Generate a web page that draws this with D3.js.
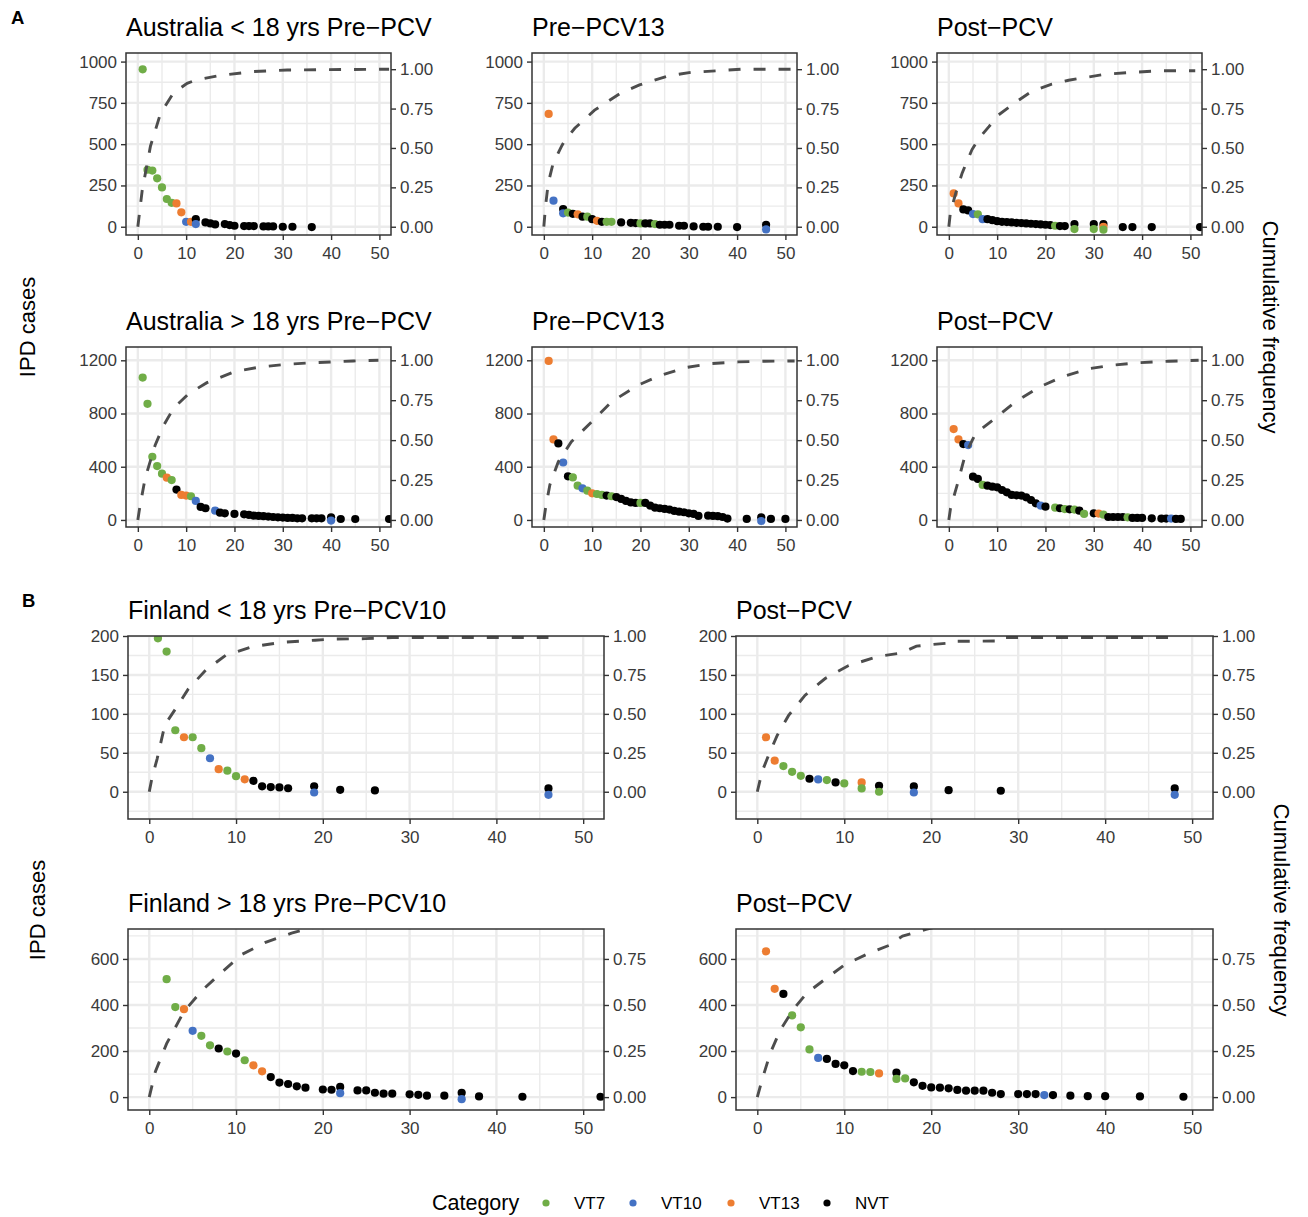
<!DOCTYPE html>
<html><head><meta charset="utf-8">
<script src="https://cdn.jsdelivr.net/npm/d3@7"></script>
<style>
body{margin:0;background:#fff}
text{font-family:"Liberation Sans",Arial,sans-serif}
</style>
</head><body>
<svg id="c" width="1308" height="1217"></svg>
<script>
// ---------------- DATA ----------------
const categories = ["VT7","VT10","VT13","NVT"];
const xTicks = [0,10,20,30,40,50];
const yTicksA1 = [0,250,500,750,1000];
const yTicksA2 = [0,400,800,1200];
const yTicksB1 = [0,50,100,150,200];
const yTicksB2 = [0,200,400,600];
const secTicks = [0,0.25,0.5,0.75,1];

// points: [rank, IPD cases, category]
const ausU18Pre = [[1,953,"VT7"],[2,345,"VT7"],[3,340,"VT7"],[4,293,"VT7"],[5,238,"VT7"],[6,168,"VT7"],[7,145,"VT7"],[8,141,"VT13"],[9,87,"VT13"],[10,30,"VT10"],[11,30,"VT13"],[12,46,"NVT"],[12,16,"VT10"],[14,26,"NVT"],[15,20,"NVT"],[16,14,"NVT"],[18,16,"NVT"],[19,10,"NVT"],[20,6,"NVT"],[22,4,"NVT"],[23,4,"NVT"],[24,4,"NVT"],[26,2,"NVT"],[27,2,"NVT"],[28,2,"NVT"],[30,0,"NVT"],[32,0,"NVT"],[36,-2,"NVT"]];
const ausU18Pcv13 = [[1,683,"VT13"],[2,158,"VT10"],[4,107,"NVT"],[4,81,"VT10"],[5,86,"VT7"],[6,78,"NVT"],[7,75,"VT13"],[8,61,"NVT"],[9,61,"VT7"],[10,46,"NVT"],[11,36,"VT13"],[12,30,"NVT"],[13,30,"VT7"],[14,30,"VT7"],[16,26,"NVT"],[18,24,"NVT"],[19,22,"NVT"],[20,20,"VT7"],[21,20,"NVT"],[22,20,"NVT"],[23,16,"VT7"],[24,12,"NVT"],[25,12,"NVT"],[26,12,"NVT"],[28,6,"NVT"],[29,6,"NVT"],[31,2,"NVT"],[33,0,"NVT"],[34,0,"NVT"],[36,0,"NVT"],[40,-2,"NVT"],[46,12,"NVT"],[46,-16,"VT10"]];
const ausU18Post = [[1,202,"VT13"],[2,141,"VT13"],[3,105,"NVT"],[4,99,"NVT"],[5,77,"VT10"],[6,75,"VT7"],[7,46,"VT10"],[8,46,"NVT"],[9,40,"NVT"],[10,34,"NVT"],[11,30,"NVT"],[12,28,"NVT"],[13,26,"NVT"],[14,24,"NVT"],[15,22,"NVT"],[16,20,"NVT"],[17,18,"NVT"],[18,16,"NVT"],[19,14,"NVT"],[20,12,"NVT"],[21,10,"NVT"],[22,6,"VT7"],[23,4,"NVT"],[24,4,"NVT"],[26,16,"NVT"],[26,-14,"VT7"],[30,16,"NVT"],[30,-14,"VT7"],[32,16,"NVT"],[32,0,"VT13"],[32,-18,"VT7"],[36,-2,"NVT"],[38,-2,"NVT"],[42,-2,"NVT"],[52,-2,"NVT"]];
const ausO18Pre = [[1,1070,"VT7"],[2,873,"VT7"],[3,475,"VT7"],[4,405,"VT7"],[5,348,"VT7"],[6,318,"VT13"],[7,300,"VT7"],[8,228,"NVT"],[9,188,"VT13"],[10,183,"VT13"],[11,178,"VT7"],[12,143,"VT10"],[13,98,"NVT"],[14,88,"NVT"],[16,70,"VT10"],[17,55,"NVT"],[18,50,"NVT"],[20,45,"NVT"],[22,42,"NVT"],[23,38,"NVT"],[24,32,"NVT"],[25,30,"NVT"],[26,28,"NVT"],[27,25,"NVT"],[28,22,"NVT"],[29,20,"NVT"],[30,18,"NVT"],[31,15,"NVT"],[32,15,"NVT"],[33,12,"NVT"],[34,12,"NVT"],[36,12,"NVT"],[37,12,"NVT"],[38,12,"NVT"],[40,20,"NVT"],[40,-5,"VT10"],[42,7,"NVT"],[45,7,"NVT"],[52,7,"NVT"]];
const ausO18Pcv13 = [[1,1195,"VT13"],[2,605,"VT13"],[3,575,"NVT"],[4,432,"VT10"],[5,328,"NVT"],[6,320,"VT7"],[7,258,"VT7"],[8,238,"VT10"],[9,220,"VT7"],[10,200,"VT13"],[11,195,"VT7"],[12,188,"VT7"],[13,183,"NVT"],[14,178,"VT7"],[15,172,"NVT"],[16,158,"NVT"],[17,143,"NVT"],[18,132,"NVT"],[19,128,"NVT"],[20,128,"VT7"],[21,128,"NVT"],[22,108,"NVT"],[23,93,"NVT"],[24,88,"NVT"],[25,83,"NVT"],[26,78,"NVT"],[27,68,"NVT"],[28,62,"NVT"],[29,58,"NVT"],[30,50,"NVT"],[31,45,"NVT"],[32,30,"NVT"],[34,32,"NVT"],[35,30,"NVT"],[36,28,"NVT"],[37,22,"NVT"],[38,10,"NVT"],[42,8,"NVT"],[45,20,"NVT"],[45,-8,"VT10"],[47,8,"NVT"],[50,8,"NVT"]];
const ausO18Post = [[1,683,"VT13"],[2,605,"VT13"],[3,570,"NVT"],[4,563,"VT10"],[5,325,"NVT"],[6,308,"NVT"],[7,263,"VT7"],[8,258,"NVT"],[9,250,"NVT"],[10,245,"NVT"],[11,225,"NVT"],[12,208,"NVT"],[13,188,"NVT"],[14,185,"NVT"],[15,183,"NVT"],[16,170,"NVT"],[17,150,"NVT"],[18,125,"NVT"],[19,108,"VT10"],[20,100,"NVT"],[22,93,"VT7"],[23,88,"NVT"],[24,82,"VT7"],[25,80,"NVT"],[26,78,"VT7"],[27,70,"NVT"],[28,45,"VT7"],[30,50,"NVT"],[31,48,"VT13"],[32,40,"VT7"],[33,22,"NVT"],[34,22,"NVT"],[35,22,"NVT"],[36,22,"NVT"],[37,20,"VT7"],[38,15,"NVT"],[39,15,"NVT"],[40,15,"NVT"],[42,12,"NVT"],[44,10,"NVT"],[45,10,"NVT"],[46,10,"VT10"],[47,8,"NVT"],[48,8,"NVT"]];
const finU18Pre = [[1,197,"VT7"],[2,180,"VT7"],[3,79,"VT7"],[4,70,"VT13"],[5,70,"VT7"],[6,56,"VT7"],[7,43,"VT10"],[8,29,"VT13"],[9,27,"VT7"],[10,20,"VT7"],[11,16,"VT13"],[12,14,"NVT"],[13,7,"NVT"],[14,6,"NVT"],[15,5.5,"NVT"],[16,4.5,"NVT"],[19,7,"NVT"],[19,-1,"VT10"],[22,2.5,"NVT"],[26,1.7,"NVT"],[46,4.3,"NVT"],[46,-4,"VT10"]];
const finU18Post = [[1,70,"VT13"],[2,40,"VT13"],[3,33,"VT7"],[4,25.6,"VT7"],[5,20.5,"VT7"],[6,16.7,"NVT"],[7,15.8,"VT10"],[8,15,"VT7"],[9,12,"NVT"],[10,10.7,"VT7"],[12,12,"VT13"],[12,4.3,"VT7"],[14,7.7,"NVT"],[14,0,"VT7"],[18,6.8,"NVT"],[18,-1,"VT10"],[22,2,"NVT"],[28,1.3,"NVT"],[48,4.3,"NVT"],[48,-4,"VT10"]];
const finO18Pre = [[2,512,"VT7"],[3,391,"VT7"],[4,382,"VT13"],[5,288,"VT10"],[6,266,"VT7"],[7,225,"VT7"],[8,211,"NVT"],[9,198,"VT7"],[10,189,"NVT"],[11,160,"VT7"],[12,138,"VT13"],[13,112,"VT13"],[14,87,"NVT"],[15,63,"NVT"],[16,57,"NVT"],[17,47,"NVT"],[18,41,"NVT"],[20,33,"NVT"],[21,32,"NVT"],[22,44,"NVT"],[22,17,"VT10"],[24,29,"NVT"],[25,29,"NVT"],[26,19,"NVT"],[27,15,"NVT"],[28,15,"NVT"],[30,12,"NVT"],[31,10,"NVT"],[32,6,"NVT"],[34,6,"NVT"],[36,19,"NVT"],[36,-9,"VT10"],[38,3,"NVT"],[43,1.5,"NVT"],[52,1.5,"NVT"]];
const finO18Post = [[1,633,"VT13"],[2,470,"VT13"],[3,448,"NVT"],[4,355,"VT7"],[5,303,"VT7"],[6,207,"VT7"],[7,170,"VT10"],[8,166,"NVT"],[9,144,"NVT"],[10,138,"NVT"],[11,113,"NVT"],[12,110,"VT7"],[13,109,"VT7"],[14,103,"VT13"],[16,106,"NVT"],[16,79,"VT7"],[17,81,"VT7"],[18,64,"NVT"],[19,49,"NVT"],[20,42,"NVT"],[21,41,"NVT"],[22,38,"NVT"],[23,31,"NVT"],[24,28,"NVT"],[25,28,"NVT"],[26,28,"NVT"],[27,19,"NVT"],[28,13,"NVT"],[30,13,"NVT"],[31,13,"NVT"],[32,13,"NVT"],[33,9,"VT10"],[34,9,"NVT"],[36,6,"NVT"],[38,4,"NVT"],[40,4,"NVT"],[44,3,"NVT"],[49,1.5,"NVT"]];

// cumulative frequency curves: [rank, cumulative fraction]
const ausU18PreCum = [[0,0],[0.9,0.23],[2.6,0.51],[4.7,0.72],[7.4,0.85],[10.2,0.91],[11.9,0.93],[17,0.96],[24,0.985],[30.9,0.995],[52,1.0]];
const ausU18Pcv13Cum = [[0,0],[0.34,0.127],[0.9,0.275],[1.9,0.40],[3.65,0.51],[4.2,0.54],[6.4,0.625],[10.5,0.74],[16,0.85],[19.8,0.90],[25.7,0.957],[30.5,0.98],[36,0.99],[40.8,1.0],[52,1.0]];
const ausU18PostCum = [[0,0],[0.3,0.085],[1.4,0.21],[2.75,0.34],[4.8,0.49],[6.2,0.56],[8.3,0.635],[10.3,0.71],[13.8,0.79],[17.2,0.86],[21.3,0.905],[24.8,0.93],[32.4,0.968],[37.9,0.98],[44,0.99],[51,0.99]];
const ausO18PreCum = [[0,0],[0.3,0.06],[1.5,0.26],[3.6,0.47],[5.3,0.59],[7.4,0.70],[10.5,0.79],[14.3,0.86],[20.1,0.93],[25.3,0.958],[30.8,0.975],[36.3,0.985],[44.6,0.996],[49.8,1.0]];
const ausO18Pcv13Cum = [[0,0],[0.35,0.073],[1.25,0.22],[3,0.365],[5.7,0.49],[9.9,0.615],[14,0.74],[19.5,0.844],[23.7,0.9],[29.2,0.954],[34.7,0.98],[40.2,0.99],[45.7,0.994],[51.9,0.996]];
const ausO18PostCum = [[0,0],[0.35,0.073],[2.1,0.26],[3.4,0.41],[5.5,0.54],[9.7,0.64],[13.8,0.74],[18.6,0.83],[23.4,0.896],[29,0.948],[33.8,0.969],[39.3,0.985],[45.5,0.994],[51.7,1.0]];
const finU18PreCum = [[0,0],[0.3,0.085],[0.9,0.21],[1.8,0.43],[3,0.53],[4.5,0.66],[6.5,0.78],[8.8,0.876],[11.8,0.93],[15.3,0.96],[19.1,0.973],[21,0.98],[24.9,0.983],[28,0.99],[46,0.99]];
const finU18PostCum = [[0,0],[0.54,0.128],[1.3,0.235],[2.3,0.363],[3.6,0.49],[5.5,0.62],[7.8,0.727],[10.5,0.81],[14,0.87],[16.5,0.89],[18.3,0.935],[20,0.945],[22.2,0.955],[22.4,0.966],[28,0.968],[28.3,0.99],[48,0.99]];
const finO18PreCum = [[0,0],[0.7,0.138],[2,0.29],[4,0.465],[6.1,0.58],[8.4,0.68],[10.7,0.775],[13.4,0.84],[16.4,0.89],[18,0.912],[20,0.93]];
const finO18PostCum = [[0,0],[0.54,0.093],[1.5,0.24],[2.65,0.365],[4.2,0.48],[5.7,0.565],[7.8,0.64],[10.1,0.72],[12.8,0.78],[15.5,0.83],[16.1,0.856],[16.7,0.874],[19.4,0.91],[21,0.93]];

// ---------------- STYLE / LAYOUT ----------------
const catColors = {VT7:"#70AD47", VT10:"#4472C4", VT13:"#ED7D31", NVT:"#000000"};
const XDOM = [-2.45, 52.4];
const panels = [
 {title:"Australia < 18 yrs Pre\u2212PCV", pts:ausU18Pre, cum:ausU18PreCum, box:[126,53,391,235], ydom:[-50,1052], yt:yTicksA1, f:954},
 {title:"Pre\u2212PCV13", pts:ausU18Pcv13, cum:ausU18Pcv13Cum, box:[532,53,797,235], ydom:[-50,1052], yt:yTicksA1, f:954},
 {title:"Post\u2212PCV", pts:ausU18Post, cum:ausU18PostCum, box:[937,53,1202,235], ydom:[-50,1052], yt:yTicksA1, f:954},
 {title:"Australia > 18 yrs Pre\u2212PCV", pts:ausO18Pre, cum:ausO18PreCum, box:[126,347,391,527], ydom:[-53,1300], yt:yTicksA2, f:1200},
 {title:"Pre\u2212PCV13", pts:ausO18Pcv13, cum:ausO18Pcv13Cum, box:[532,347,797,527], ydom:[-53,1300], yt:yTicksA2, f:1200},
 {title:"Post\u2212PCV", pts:ausO18Post, cum:ausO18PostCum, box:[937,347,1202,527], ydom:[-53,1300], yt:yTicksA2, f:1200},
 {title:"Finland < 18 yrs Pre\u2212PCV10", pts:finU18Pre, cum:finU18PreCum, box:[128,636,604,819], ydom:[-35,200], yt:yTicksB1, f:200},
 {title:"Post\u2212PCV", pts:finU18Post, cum:finU18PostCum, box:[736,636,1213,819], ydom:[-35,200], yt:yTicksB1, f:200},
 {title:"Finland > 18 yrs Pre\u2212PCV10", pts:finO18Pre, cum:finO18PreCum, box:[128,929,604,1110], ydom:[-56,730], yt:yTicksB2, f:800},
 {title:"Post\u2212PCV", pts:finO18Post, cum:finO18PostCum, box:[736,929,1213,1110], ydom:[-56,730], yt:yTicksB2, f:800}
];

const svg = d3.select("#c");
svg.append("rect").attr("width",1308).attr("height",1217).attr("fill","#fff");

function styleAxis(g){
  g.select(".domain").remove();
  g.selectAll(".tick line").attr("stroke","#333333").attr("stroke-width",1.4);
  g.selectAll(".tick text").attr("fill","#3a3a3a").attr("font-size",17)
   .attr("font-family",'"Liberation Sans",Arial,sans-serif');
}

panels.forEach((p,i)=>{
  const [x0,y0,x1,y1] = p.box;
  const x = d3.scaleLinear().domain(XDOM).range([x0,x1]);
  const y = d3.scaleLinear().domain(p.ydom).range([y1,y0]);
  const ySec = d3.scaleLinear().domain([p.ydom[0]/p.f, p.ydom[1]/p.f]).range([y1,y0]);
  const g = svg.append("g");
  const cid = "clip"+i;
  g.append("clipPath").attr("id",cid).append("rect").attr("x",x0).attr("y",y0).attr("width",x1-x0).attr("height",y1-y0);
  const inner = g.append("g").attr("clip-path",`url(#${cid})`);
  const xMinor = xTicks.map(t=>t+5).concat([-5]).filter(t=>t>XDOM[0]&&t<XDOM[1]);
  const step = p.yt[1]-p.yt[0];
  const yMinor = [p.yt[0]-step/2].concat(p.yt.map(t=>t+step/2)).filter(t=>t>p.ydom[0]&&t<p.ydom[1]);
  const gc = "#EBEBEB";
  inner.selectAll(".xm").data(xMinor).enter().append("line")
    .attr("x1",d=>x(d)).attr("x2",d=>x(d)).attr("y1",y0).attr("y2",y1).attr("stroke",gc).attr("stroke-width",1.4);
  inner.selectAll(".ym").data(yMinor).enter().append("line")
    .attr("y1",d=>y(d)).attr("y2",d=>y(d)).attr("x1",x0).attr("x2",x1).attr("stroke",gc).attr("stroke-width",1.4);
  inner.selectAll(".xM").data(xTicks).enter().append("line")
    .attr("x1",d=>x(d)).attr("x2",d=>x(d)).attr("y1",y0).attr("y2",y1).attr("stroke",gc).attr("stroke-width",2.4);
  inner.selectAll(".yM").data(p.yt).enter().append("line")
    .attr("y1",d=>y(d)).attr("y2",d=>y(d)).attr("x1",x0).attr("x2",x1).attr("stroke",gc).attr("stroke-width",2.4);
  inner.selectAll("circle").data(p.pts).enter().append("circle")
    .attr("cx",d=>x(d[0])).attr("cy",d=>y(d[1])).attr("r",4.1).attr("fill",d=>catColors[d[2]]);
  const line = d3.line().x(d=>x(d[0])).y(d=>y(d[1]*p.f));
  inner.append("path").datum(p.cum).attr("d",line).attr("fill","none")
    .attr("stroke","#4D4D4D").attr("stroke-width",2.9).attr("stroke-dasharray","12,13");
  g.append("rect").attr("x",x0).attr("y",y0).attr("width",x1-x0).attr("height",y1-y0)
    .attr("fill","none").attr("stroke","#333333").attr("stroke-width",1.5);
  g.append("g").attr("transform",`translate(${x0},0)`)
    .call(d3.axisLeft(y).tickValues(p.yt).tickFormat(d3.format("d")).tickSize(5).tickPadding(4)).call(styleAxis);
  g.append("g").attr("transform",`translate(${x1},0)`)
    .call(d3.axisRight(ySec).tickValues(secTicks.filter(t=>t>=ySec.domain()[0]&&t<=ySec.domain()[1])).tickFormat(d3.format(".2f")).tickSize(5).tickPadding(4)).call(styleAxis);
  g.append("g").attr("transform",`translate(0,${y1})`)
    .call(d3.axisBottom(x).tickValues(xTicks).tickFormat(d3.format("d")).tickSize(5).tickPadding(6.5)).call(styleAxis);
  g.append("text").attr("x",x0).attr("y",y0-17).attr("font-size",25).attr("fill","#000").text(p.title);
});

svg.append("text").attr("x",11).attr("y",24).attr("font-size",18.5).attr("font-weight","bold").text("A");
svg.append("text").attr("x",22).attr("y",607).attr("font-size",18.5).attr("font-weight","bold").text("B");

function vtext(xp,yp,rot,txt){
  svg.append("text").attr("transform",`translate(${xp},${yp}) rotate(${rot})`)
    .attr("text-anchor","middle").attr("dominant-baseline","central").attr("font-size",22).attr("fill","#000").text(txt);
}
vtext(27,327,-90,"IPD cases");
vtext(37,910,-90,"IPD cases");
vtext(1270,327,90,"Cumulative frequency");
vtext(1281,910,90,"Cumulative frequency");

const lg = svg.append("g");
lg.append("text").attr("x",432).attr("y",1210).attr("font-size",21.5).attr("fill","#000").text("Category");
const legX = [546,633,731,827];
categories.forEach((c,i)=>{
  lg.append("circle").attr("cx",legX[i]).attr("cy",1203).attr("r",3.6).attr("fill",catColors[c]);
  lg.append("text").attr("x",legX[i]+28).attr("y",1209).attr("font-size",17).attr("fill","#000").text(c);
});
</script>
</body></html>
